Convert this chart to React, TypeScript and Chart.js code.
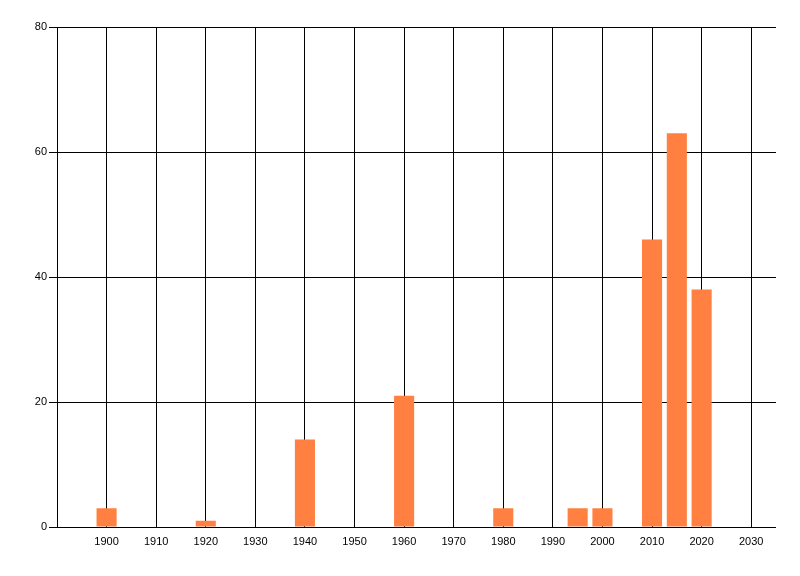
import { useEffect, useRef } from 'react';
import { Chart, registerables } from 'chart.js';

Chart.register(...registerables);

// years with a bar, and the count for each
const years = [1900, 1920, 1940, 1960, 1980, 1995, 2000, 2010, 2015, 2020];
const counts = [3, 1, 14, 21, 3, 3, 3, 46, 63, 38];

// tick labels along the bottom
const yearTicks = [1900, 1910, 1920, 1930, 1940, 1950, 1960, 1970, 1980, 1990, 2000, 2010, 2020, 2030];

const FONT = { family: 'Liberation Sans', size: 11 };

export default function App() {
  const chartRef = useRef<HTMLCanvasElement>(null);

  useEffect(() => {
    if (!chartRef.current) return;

    const chart = new Chart(chartRef.current, {
      type: 'bar',
      data: {
        datasets: [{
          label: 'Count',
          data: years.map((y, i) => ({ x: y, y: counts[i] })),
          backgroundColor: '#FF8040',
          borderWidth: 0,
          barPercentage: 0.81,
          categoryPercentage: 1,
        }],
      },
      options: {
        responsive: false,
        animation: false,
        devicePixelRatio: 1,
        layout: { padding: { left: 0, top: 27, right: 24, bottom: 0 } },
        plugins: {
          legend: { display: false },
          tooltip: { enabled: false },
        },
        scales: {
          x: {
            type: 'linear',
            min: 1890,
            max: 2035,
            offset: false,
            afterBuildTicks: (axis) => {
              axis.ticks = yearTicks.map((v) => ({ value: v }));
            },
            afterFit: (axis) => {
              axis.height = 49;
            },
            ticks: {
              color: '#000',
              font: FONT,
              padding: 8,
              maxRotation: 0,
              autoSkip: false,
              callback: (v) => String(v),
            },
            grid: {
              offset: false,
              color: '#000',
              lineWidth: 1,
              drawTicks: false,
            },
            border: { display: false },
          },
          y: {
            min: 0,
            max: 80,
            afterFit: (axis) => {
              axis.width = 57;
            },
            ticks: {
              stepSize: 20,
              color: '#000',
              font: FONT,
              padding: 2,
            },
            grid: {
              color: '#000',
              lineWidth: 1,
              tickLength: 8,
            },
            border: { display: true, color: '#000', width: 1 },
          },
        },
      },
    });

    return () => chart.destroy();
  }, []);

  return (
    <div style={{ position: 'absolute', left: 0, top: 0, width: 800, height: 576, background: '#fff' }}>
      <canvas ref={chartRef} width={800} height={576} />
    </div>
  );
}
